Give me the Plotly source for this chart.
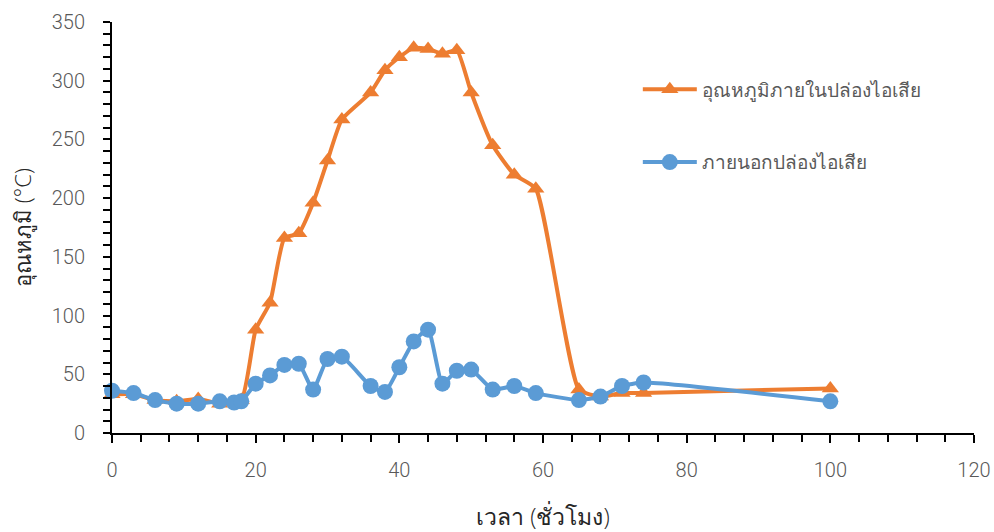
import plotly.graph_objects as go

# ---- data ----
x_in = [0, 3, 6, 9, 12, 15, 18, 20, 22, 24, 26, 28, 30, 32, 36, 38, 40, 42, 44, 46, 48, 50, 53, 56, 59, 65, 68, 71, 74, 100]
y_in = [33, 33, 28, 27, 29, 25, 28, 88, 111, 166, 170, 196, 232, 267, 290, 309, 320, 328, 327, 323, 326, 290, 245, 220, 208, 37, 31, 34, 34, 38]

x_out = [0, 3, 6, 9, 12, 15, 17, 18, 20, 22, 24, 26, 28, 30, 32, 36, 38, 40, 42, 44, 46, 48, 50, 53, 56, 59, 65, 68, 71, 74, 100]
y_out = [36, 34, 28, 25, 25, 27, 26, 27, 42, 49, 58, 59, 37, 63, 65, 40, 35, 56, 78, 88, 42, 53, 54, 37, 40, 34, 28, 31, 40, 43, 27]

name_in = "อุณหภูมิภายในปล่องไอเสีย"
name_out = "ภายนอกปล่องไอเสีย"
x_title = "เวลา (ชั่วโมง)"
y_title = "อุณหภูมิ (°C)"

ORANGE = "#ED7D31"
BLUE = "#5B9BD5"
NUMFONT = "Roboto, sans-serif"

fig = go.Figure()
fig.add_trace(go.Scatter(
    x=x_in, y=y_in, name=name_in, mode="lines+markers",
    line=dict(color=ORANGE, width=4, shape="spline", smoothing=0.5),
    marker=dict(symbol="triangle-up", size=15, color=ORANGE),
    cliponaxis=False, legendgroup="a"))
fig.add_trace(go.Scatter(
    x=x_out, y=y_out, name=name_out, mode="lines+markers",
    line=dict(color=BLUE, width=4, shape="spline", smoothing=0.5),
    marker=dict(symbol="circle", size=16, color=BLUE),
    cliponaxis=False, legendgroup="b"))

fig.update_layout(
    width=994, height=532,
    margin=dict(l=112, r=20, t=22, b=99),
    paper_bgcolor="white", plot_bgcolor="white",
    showlegend=True,
    legend=dict(x=0.61, y=0.882, xanchor="left", yanchor="top",
                font=dict(size=19, color="#595959"),
                itemwidth=54,
                tracegroupgap=45, bgcolor="rgba(0,0,0,0)"),
    xaxis=dict(range=[0, 120], dtick=20, tick0=0, automargin=False,
               showgrid=False, zeroline=False,
               showline=True, linecolor="black", linewidth=2,
               ticks="outside", ticklen=8, tickwidth=1.5, tickcolor="black",
               minor=dict(dtick=4, ticks="outside", ticklen=7, tickwidth=1.5, tickcolor="black"),
               tickfont=dict(family=NUMFONT, size=20, color="#595959", weight=300),
               ticklabelstandoff=10,
               title=dict(text=x_title, font=dict(size=23, color="#262626", weight=300), standoff=28)),
    xaxis2=dict(range=[0, 120], matches="x", overlaying="x", dtick=20, tick0=0,
                showgrid=False, zeroline=False, showline=False,
                ticks="inside", ticklen=8, tickwidth=1.5, tickcolor="black",
                showticklabels=False, anchor="y", side="bottom"),
    yaxis=dict(range=[0, 350], dtick=50, tick0=0, automargin=False,
               showgrid=False, zeroline=False,
               showline=True, linecolor="black", linewidth=2,
               ticks="outside", ticklen=7, tickwidth=1.5, tickcolor="black",
               minor=dict(dtick=10, ticks="outside", ticklen=7, tickwidth=1.5, tickcolor="black"),
               tickfont=dict(family=NUMFONT, size=20, color="#595959", weight=300),
               ticklabelstandoff=14,
               title=dict(text=y_title, font=dict(size=22, color="#262626", weight=300), standoff=14)),
)

fig.write_html("out.html")
